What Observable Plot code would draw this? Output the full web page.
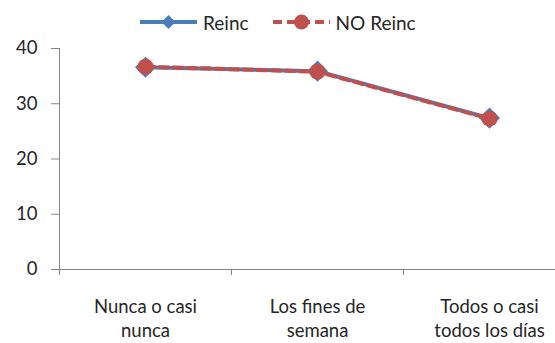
<!DOCTYPE html>
<html><head><meta charset="utf-8">
<script src="https://cdn.jsdelivr.net/npm/d3@7"></script>
<script src="https://cdn.jsdelivr.net/npm/@observablehq/plot@0.6"></script>
<style>
body{margin:0;background:#fff;font-family:Lato,"Open Sans",sans-serif;color:#262626;}
#legend{height:40px;display:flex;align-items:center;padding-left:140px;padding-top:4px;box-sizing:border-box;font-size:19px;}
#legend .item{display:flex;align-items:center;}
#legend svg{display:block;}
</style></head>
<body>
<div id="legend"></div>
<div id="chart"></div>
<script>
const categories = ["Nunca o casi\nnunca", "Los fines de\nsemana", "Todos o casi\ntodos los días"];
const reinc = [36.6, 35.9, 27.4];
const noReinc = [36.7, 35.8, 27.3];
const yTicks = [0, 10, 20, 30, 40];
const seriesNames = ["Reinc", "NO Reinc"];
const blue = "#4a7ebb", red = "#c0504d", gray = "#868686";

const rows = categories.map((c, i) => ({pos: i + 0.5, cat: c, reinc: reinc[i], no: noReinc[i]}));
const bounds = d3.range(categories.length + 1);

// legend
const lg = d3.select("#legend");
const it1 = lg.append("div").attr("class", "item");
const s1 = it1.append("svg").attr("width", 57).attr("height", 18);
s1.append("line").attr("x1", 0).attr("x2", 57).attr("y1", 9).attr("y2", 9).attr("stroke", blue).attr("stroke-width", 4);
s1.append("path").attr("d", "M28.5,2L35.5,9L28.5,16L21.5,9Z").attr("fill", blue);
it1.append("span").text(seriesNames[0]).style("margin-left", "6px");
const it2 = lg.append("div").attr("class", "item").style("margin-left", "24px");
const s2 = it2.append("svg").attr("width", 57).attr("height", 18);
s2.append("line").attr("x1", 0).attr("x2", 57).attr("y1", 9).attr("y2", 9).attr("stroke", red).attr("stroke-width", 4).attr("stroke-dasharray", "9,5");
s2.append("circle").attr("cx", 28.5).attr("cy", 9).attr("r", 7.5).attr("fill", red);
it2.append("span").text(seriesNames[1]).style("margin-left", "6px");

const chart = Plot.plot({
  width: 555,
  height: 303,
  marginTop: 8,
  marginBottom: 74,
  marginLeft: 59,
  marginRight: 0,
  style: {fontFamily: "Lato, 'Open Sans', sans-serif", color: "#262626", overflow: "visible"},
  x: {type: "linear", domain: [0, categories.length], range: [59, 575], axis: null},
  y: {domain: [0, 40], axis: null},
  marks: [
    Plot.axisY({ticks: yTicks, tickSize: 8, tickPadding: 14, fontSize: 18.5, stroke: gray, color: "#262626", label: null}),
    Plot.ruleX([0], {y1: 0, y2: 40, stroke: gray}),
    Plot.ruleY([0], {x1: 0, x2: categories.length, insetLeft: -8, stroke: gray}),
    Plot.axisX({ticks: bounds, tickSize: 6, tickFormat: () => "", stroke: gray, label: null}),
    Plot.text(rows, {x: "pos", text: "cat", frameAnchor: "bottom", lineAnchor: "top", dy: 27, fontSize: 18.5, lineHeight: 1.27, fill: "#262626"}),
    Plot.line(rows, {x: "pos", y: "reinc", stroke: blue, strokeWidth: 4}),
    Plot.dot(rows, {x: "pos", y: "reinc", symbol: "diamond2", r: 9.5, fill: blue, stroke: "none"}),
    Plot.line(rows, {x: "pos", y: "no", stroke: red, strokeWidth: 4, strokeDasharray: "9,5"}),
    Plot.dot(rows, {x: "pos", y: "no", symbol: "circle", r: 8, fill: red, stroke: "none"})
  ]
});
document.getElementById("chart").append(chart);
</script>
</body></html>
